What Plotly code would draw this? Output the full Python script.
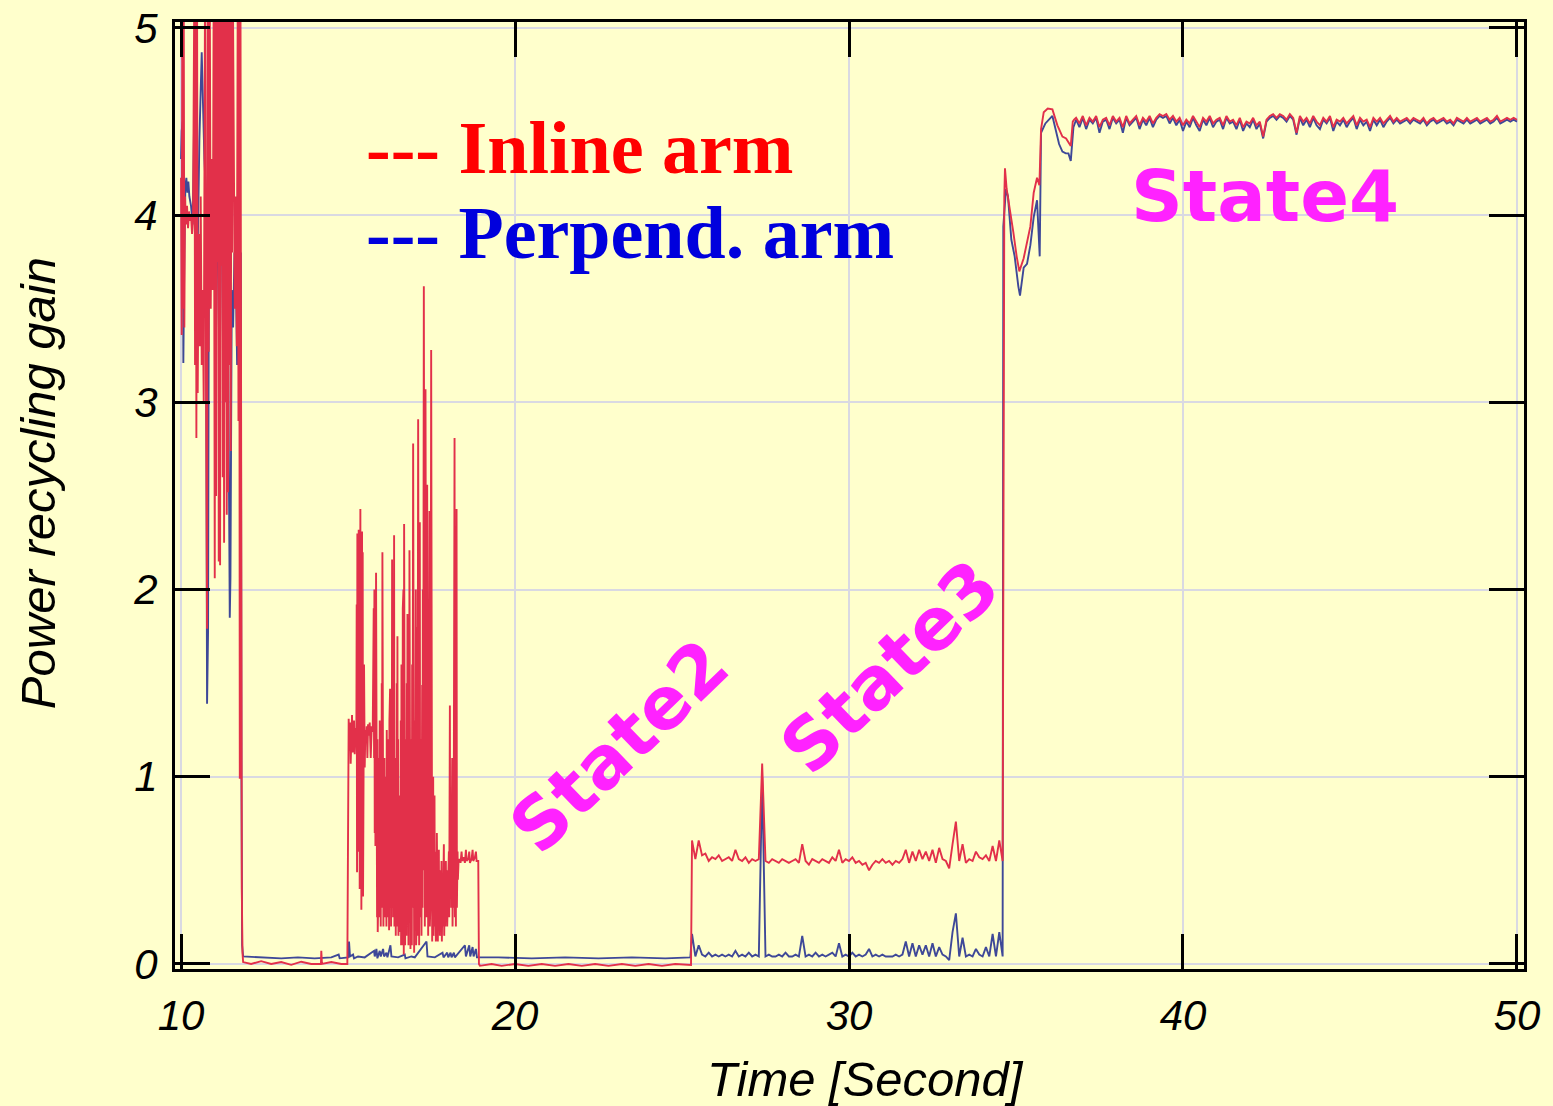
import numpy as np
import plotly.graph_objects as go

# ---------------- data ----------------
# Inline arm (red) -- (time [s], power recycling gain)
inline_startup = [(10.00,4.20),(10.02,3.36),(10.04,5.30),(10.06,3.50),(10.08,5.30),(10.10,3.40),(10.12,4.10),
    (10.15,3.95),(10.18,4.05),(10.21,3.93),(10.24,4.02),(10.27,3.97),(10.30,4.00),(10.33,3.90),(10.36,3.98),
    (10.40,5.30),(10.42,3.20),(10.44,5.30),(10.46,2.81),(10.48,5.30),(10.50,3.05),(10.53,3.90),(10.56,3.30),
    (10.59,4.10),(10.62,3.20),(10.65,3.60),(10.68,3.00),(10.72,5.30),(10.75,3.10),(10.78,1.79),(10.80,5.30),
    (10.83,3.27),(10.86,5.30),(10.89,3.50),(10.92,4.30),(10.95,3.60),(10.98,5.30),(11.01,2.06),(11.03,5.30),
    (11.05,2.50),(11.07,5.30),(11.09,3.75),(11.11,5.30),(11.13,2.15),(11.15,5.30),(11.17,2.13),(11.19,5.30),
    (11.21,3.73),(11.23,5.30),(11.25,2.60),(11.27,5.30),(11.29,2.25),(11.31,5.30),(11.33,3.00),(11.35,5.30),
    (11.37,2.40),(11.39,5.30),(11.41,2.52),(11.43,5.30),(11.45,3.20),(11.47,5.30),(11.49,2.74),(11.51,5.30),
    (11.53,3.80),(11.55,5.30),(11.58,3.90),(11.61,3.50),(11.64,4.10),(11.67,3.30),(11.70,5.30),(11.72,2.90),
    (11.74,5.30),(11.76,0.99),(11.78,5.30),(11.80,1.00),(11.82,0.40),(11.84,0.06)]
inline_quiet1 = [(11.86,0.01),(12.10,0.00),(12.40,0.015),(12.70,0.00),(13.00,0.01),(13.30,-0.005),(13.60,0.012),
    (13.90,0.00),(14.19,0.00),(14.20,0.07),(14.22,0.00),(14.50,0.01),(14.80,0.00),(14.98,0.00)]
inline_state2 = [(15.00,1.27),(15.02,1.31),(15.04,1.14),(15.06,1.29),(15.08,1.07),(15.10,1.26),(15.12,1.33),
    (15.14,1.13),(15.16,1.24),(15.18,1.30),(15.20,1.12),(15.23,1.26),(15.25,1.20),
    (15.26,1.92),(15.27,0.49),(15.28,2.30),(15.29,0.80),(15.30,2.05),(15.31,0.60),(15.32,2.32),(15.33,0.95),
    (15.34,2.10),(15.35,0.40),(15.36,1.90),(15.37,2.43),(15.38,0.70),(15.39,2.25),(15.40,0.29),(15.41,1.80),
    (15.42,2.31),(15.43,0.90),(15.44,2.20),(15.45,0.36),(15.46,1.50),(15.47,0.55),(15.48,1.60),(15.50,1.05),
    (15.52,1.25),(15.54,1.18),(15.56,1.27),(15.58,1.10),(15.60,1.28),(15.62,1.22),(15.65,1.29),(15.68,1.10),
    (15.71,1.27),(15.74,1.24),
    (15.77,1.90),(15.78,1.10),(15.79,2.00),(15.80,0.70),(15.81,1.95),(15.82,0.63),(15.84,2.09),(15.85,0.50),
    (15.86,1.40),(15.87,0.25),(15.88,1.20),(15.89,0.17),(15.90,0.90),(15.91,0.40),(15.92,1.10),(15.93,0.25),
    (15.95,1.30),(15.96,0.40),(15.97,0.90),(15.98,0.20),(15.99,1.20),(16.00,0.35),(16.01,1.50),(16.02,0.30),
    (16.03,2.20),(16.04,0.45),(16.05,1.00),(16.06,0.20),(16.07,0.80),(16.08,0.30),(16.09,1.10),(16.10,0.25),
    (16.12,0.70),(16.13,0.30),(16.14,1.00),(16.15,0.20),(16.16,1.25),(16.17,0.35),(16.18,0.60),(16.19,0.25),
    (16.20,1.20),(16.21,0.30),(16.22,0.90),(16.23,0.18),(16.24,1.30),(16.25,0.40),(16.26,1.47),(16.27,0.30),
    (16.28,1.40),(16.29,0.20),(16.30,1.00),(16.31,0.50),(16.32,2.16),(16.33,0.30),(16.34,1.50),(16.35,0.25),
    (16.36,1.90),(16.37,0.40),(16.38,2.29),(16.39,0.20),(16.40,1.20),(16.41,0.30),(16.42,0.80),(16.43,0.15),
    (16.44,1.10),(16.45,0.35),(16.46,1.50),(16.47,0.20),(16.48,1.75),(16.49,0.30),(16.50,1.20),(16.51,0.15),
    (16.52,0.90),(16.53,0.40),(16.54,0.60),(16.55,0.17),(16.56,0.90),(16.57,0.30),(16.58,1.30),(16.59,0.10),
    (16.60,1.60),(16.61,0.40),(16.62,0.80),(16.63,0.10),(16.64,1.90),(16.65,0.30),(16.66,2.00),(16.67,0.05),
    (16.68,2.35),(16.69,0.30),(16.70,1.40),(16.71,0.10),(16.72,0.90),(16.73,0.35),(16.74,1.20),(16.75,0.15),
    (16.76,1.50),(16.77,0.30),(16.78,1.87),(16.79,0.20),(16.80,1.00),(16.81,0.10),(16.82,1.70),(16.83,0.40),
    (16.84,2.21),(16.85,0.20),(16.86,1.50),(16.87,0.08),(16.88,1.20),(16.89,0.35),(16.90,0.90),(16.91,0.10),
    (16.92,1.60),(16.93,0.30),(16.95,2.78),(16.96,0.20),(16.97,1.50),(16.98,0.06),(16.99,0.80),(17.00,0.40),
    (17.01,1.30),(17.02,0.20),(17.03,2.00),(17.04,0.10),(17.05,1.00),(17.06,0.30),(17.07,1.80),(17.08,0.15),
    (17.10,2.91),(17.11,0.30),(17.12,1.90),(17.13,0.10),(17.14,0.90),(17.15,2.36),(17.16,0.25),(17.17,1.20),
    (17.18,0.40),(17.19,0.80),(17.20,0.15),(17.22,1.49),(17.23,0.30),(17.24,2.00),(17.25,0.50),(17.27,3.62),
    (17.28,0.40),(17.29,2.40),(17.30,0.20),(17.32,3.07),(17.33,0.60),(17.34,1.80),(17.35,0.25),(17.37,2.56),
    (17.38,0.35),(17.39,1.40),(17.40,0.15),(17.41,1.00),(17.42,0.40),(17.44,2.42),(17.45,0.20),(17.46,1.50),
    (17.47,0.35),(17.49,3.28),(17.50,0.30),(17.51,1.20),(17.52,0.12),(17.53,0.80),(17.54,0.40),(17.55,1.00),
    (17.56,0.15),(17.57,0.70),(17.58,0.35),(17.59,0.90),(17.60,0.20),(17.62,0.60),(17.63,0.12),(17.64,0.50),
    (17.65,0.20),(17.66,0.70),(17.67,0.30),(17.68,0.55),(17.69,0.12),(17.70,0.45),(17.72,0.61),(17.73,0.20),
    (17.74,0.50),(17.75,0.15),(17.77,0.45),(17.78,0.25),(17.80,0.55),(17.81,0.12),(17.83,0.40),(17.84,0.20),
    (17.86,0.50),(17.87,0.64),(17.88,0.15),(17.90,0.45),(17.91,0.20),(17.93,0.55),(17.94,0.30),(17.96,0.50),
    (17.97,0.20),(17.99,0.45),(18.00,0.30),(18.02,0.60),(18.03,0.25),(18.05,1.38),(18.06,0.40),(18.08,0.90),
    (18.09,0.30),(18.11,0.70),(18.12,1.10),(18.13,0.20),(18.15,0.60),(18.16,0.30),(18.17,1.20),(18.19,2.81),
    (18.20,0.25),(18.22,0.90),(18.23,0.20),(18.25,2.43),(18.26,0.30),(18.28,0.60),(18.29,0.45),(18.31,0.55),
    (18.34,0.56),(18.37,0.54),(18.40,0.60),(18.42,0.55),(18.46,0.57),(18.50,0.54),(18.53,0.61),(18.55,0.55),
    (18.60,0.56),(18.63,0.60),(18.65,0.54),(18.70,0.56),(18.73,0.61),(18.75,0.55),(18.80,0.57),(18.83,0.60),
    (18.85,0.55),(18.90,0.55),(18.92,0.00)]
inline_quiet2 = [(18.95,-0.01),(19.30,0.00),(19.60,-0.01),(20.00,0.00),(20.40,-0.01),(20.80,0.00),(21.20,-0.01),
    (21.60,0.00),(22.00,-0.01),(22.40,0.00),(22.80,-0.01),(23.20,0.00),(23.60,-0.01),(24.00,0.00),(24.40,-0.01),
    (24.80,0.00),(25.27,-0.005)]
# State3: samples every 0.1 s from 25.3 s to 34.6 s
state3_start, state3_step = 25.3, 0.1
inline_state3 = [0.66,0.56,0.66,0.58,0.59,0.55,0.57,0.56,0.58,0.55,
    0.56,0.57,0.55,0.61,0.56,0.55,0.57,0.54,0.56,0.55,
    0.56,1.07,0.55,0.54,0.56,0.55,0.54,0.56,0.55,0.54,
    0.55,0.56,0.54,0.64,0.55,0.53,0.56,0.55,0.54,0.56,
    0.55,0.54,0.57,0.55,0.61,0.54,0.56,0.55,0.57,0.54,
    0.55,0.53,0.54,0.50,0.53,0.55,0.54,0.56,0.54,0.55,
    0.53,0.55,0.54,0.56,0.61,0.54,0.60,0.55,0.61,0.56,
    0.60,0.55,0.61,0.54,0.62,0.56,0.55,0.51,0.64,0.76,
    0.55,0.64,0.54,0.56,0.55,0.60,0.57,0.56,0.58,0.55,
    0.63,0.55,0.66,0.55]
inline_lock = [(34.65,4.10),(34.67,4.25),(34.72,4.14),(34.82,4.03),(34.92,3.91),(35.02,3.78),(35.10,3.70),
    (35.23,3.77),(35.33,3.85),(35.43,3.94),(35.53,4.12),(35.63,4.20),(35.70,4.16),(35.75,4.46),(35.83,4.55),
    (35.95,4.57),(36.09,4.565),(36.15,4.53),(36.24,4.48),(36.39,4.42),(36.50,4.41),(36.64,4.37),(36.70,4.50),
    (36.74,4.51)]
# State4: samples every 0.1 s from 36.8 s to 50.0 s
state4_start, state4_step = 36.8, 0.1
inline_state4 = [4.52,4.49,4.53,4.48,4.52,4.50,4.53,4.47,4.51,4.52,
    4.48,4.53,4.50,4.52,4.47,4.53,4.49,4.51,4.53,4.48,
    4.52,4.50,4.53,4.49,4.52,4.54,4.53,4.54,4.51,4.53,
    4.50,4.52,4.48,4.51,4.49,4.53,4.50,4.47,4.52,4.50,
    4.53,4.49,4.51,4.52,4.48,4.53,4.50,4.51,4.48,4.52,
    4.47,4.50,4.49,4.52,4.48,4.50,4.42,4.51,4.53,4.54,
    4.52,4.54,4.53,4.51,4.54,4.52,4.44,4.53,4.50,4.52,
    4.49,4.53,4.50,4.48,4.52,4.50,4.53,4.47,4.51,4.50,
    4.52,4.49,4.51,4.53,4.48,4.52,4.50,4.51,4.47,4.52,
    4.50,4.52,4.49,4.51,4.53,4.50,4.52,4.50,4.51,4.52,
    4.50,4.52,4.51,4.50,4.52,4.49,4.51,4.52,4.50,4.51,
    4.52,4.50,4.51,4.49,4.52,4.51,4.50,4.52,4.50,4.51,
    4.52,4.50,4.51,4.52,4.50,4.51,4.53,4.50,4.51,4.52,
    4.51,4.52,4.51]

# Perpendicular arm (blue)
perp_startup = [(10.00,4.30),(10.02,4.45),(10.05,4.50),(10.07,3.21),(10.10,3.80),(10.13,4.15),(10.16,4.20),
    (10.19,4.12),(10.22,4.18),(10.25,4.10),(10.30,4.05),(10.35,3.95),(10.40,4.60),(10.44,4.30),(10.48,3.60),
    (10.55,4.40),(10.62,4.87),(10.66,4.55),(10.70,4.30),(10.74,4.14),(10.78,1.39),(10.81,1.78),(10.84,4.37),
    (10.88,3.90),(10.92,4.25),(10.96,3.70),(11.00,4.20),(11.05,3.40),(11.10,4.37),(11.15,3.00),(11.20,3.90),
    (11.25,4.10),(11.30,3.50),(11.35,3.30),(11.40,3.70),(11.46,1.85),(11.48,2.06),(11.52,3.60),(11.56,3.40),
    (11.60,3.80),(11.64,3.70),(11.68,3.20),(11.72,3.84),(11.76,3.50),(11.79,3.80),(11.81,1.00),(11.83,0.10),
    (11.86,0.04)]
perp_state2 = [(12.50,0.035),(13.00,0.03),(13.50,0.035),(14.00,0.03),(14.50,0.035),(14.72,0.05),(14.75,0.03),
    (15.00,0.035),(15.03,0.12),(15.06,0.04),(15.15,0.05),(15.18,0.03),(15.30,0.04),(15.50,0.035),(15.78,0.07),
    (15.80,0.04),(15.85,0.08),(15.88,0.03),(15.95,0.07),(15.98,0.04),(16.05,0.08),(16.08,0.04),(16.15,0.06),
    (16.18,0.035),(16.27,0.10),(16.30,0.04),(16.50,0.035),(16.70,0.05),(16.72,0.03),(16.90,0.04),(17.00,0.035),
    (17.35,0.12),(17.38,0.04),(17.60,0.035),(17.83,0.06),(17.86,0.035),(17.97,0.06),(18.00,0.035),(18.07,0.06),
    (18.10,0.035),(18.17,0.06),(18.20,0.035),(18.50,0.10),(18.53,0.04),(18.63,0.10),(18.66,0.04),(18.73,0.09),
    (18.76,0.04),(18.83,0.08),(18.86,0.035),(19.50,0.035),(20.50,0.03),(21.50,0.035),(22.50,0.03),(23.50,0.035),
    (24.50,0.03),(25.25,0.035)]
perp_state3 = [0.16,0.04,0.10,0.05,0.04,0.06,0.04,0.05,0.04,0.05,
    0.04,0.05,0.04,0.07,0.04,0.05,0.04,0.06,0.04,0.05,
    0.04,1.00,0.04,0.05,0.04,0.04,0.05,0.04,0.06,0.04,
    0.04,0.05,0.04,0.15,0.04,0.05,0.04,0.06,0.04,0.05,
    0.04,0.05,0.06,0.04,0.11,0.04,0.05,0.04,0.06,0.04,
    0.05,0.04,0.05,0.08,0.04,0.05,0.04,0.05,0.04,0.04,
    0.04,0.05,0.04,0.05,0.12,0.04,0.11,0.04,0.10,0.05,
    0.10,0.04,0.11,0.04,0.09,0.05,0.04,0.02,0.17,0.27,
    0.04,0.14,0.04,0.05,0.04,0.08,0.05,0.04,0.09,0.04,
    0.16,0.04,0.17,0.04]
perp_lock = [(34.62,3.94),(34.70,4.14),(34.76,4.10),(34.86,3.87),(34.96,3.78),(35.07,3.62),(35.12,3.57),
    (35.23,3.72),(35.33,3.74),(35.43,3.84),(35.53,3.99),(35.63,4.08),(35.68,3.90),(35.71,3.78),(35.75,4.44),
    (35.88,4.49),(36.09,4.53),(36.19,4.45),(36.29,4.38),(36.39,4.34),(36.49,4.33),(36.57,4.33),(36.64,4.29),
    (36.72,4.47)]
perp_state4 = [4.51,4.47,4.52,4.46,4.51,4.49,4.52,4.44,4.50,4.51,
    4.46,4.52,4.49,4.51,4.44,4.52,4.48,4.50,4.52,4.46,
    4.51,4.48,4.52,4.47,4.51,4.53,4.52,4.53,4.49,4.52,
    4.48,4.51,4.45,4.50,4.47,4.52,4.48,4.45,4.51,4.48,
    4.52,4.47,4.50,4.51,4.46,4.52,4.49,4.50,4.46,4.51,
    4.45,4.49,4.47,4.51,4.46,4.49,4.41,4.50,4.52,4.53,
    4.51,4.53,4.52,4.50,4.53,4.51,4.43,4.52,4.48,4.51,
    4.47,4.52,4.48,4.46,4.51,4.49,4.52,4.45,4.50,4.48,
    4.51,4.47,4.50,4.52,4.46,4.51,4.48,4.50,4.45,4.51,
    4.48,4.51,4.47,4.50,4.52,4.49,4.51,4.49,4.50,4.51,
    4.49,4.51,4.50,4.49,4.51,4.48,4.50,4.51,4.49,4.50,
    4.51,4.49,4.50,4.48,4.51,4.50,4.49,4.51,4.49,4.50,
    4.51,4.49,4.50,4.51,4.49,4.50,4.52,4.49,4.50,4.51,
    4.50,4.51,4.50]

x_ticks = [10, 20, 30, 40, 50]
y_ticks = [0, 1, 2, 3, 4, 5]
legend_labels = ["--- Inline arm", "--- Perpend. arm"]
state_labels = ["State2", "State3", "State4"]


def grid_times(start, step, n):
    return [round(start + step * i, 3) for i in range(n)]


def assemble(pair_lists_and_grids):
    t, v = [], []
    for item in pair_lists_and_grids:
        if isinstance(item, tuple):
            start, step, vals = item
            t += grid_times(start, step, len(vals))
            v += list(vals)
        else:
            t += [p[0] for p in item]
            v += [p[1] for p in item]
    return t, v


t_in, v_in = assemble([inline_startup, inline_quiet1, inline_state2, inline_quiet2,
                       (state3_start, state3_step, inline_state3), inline_lock,
                       (state4_start, state4_step, inline_state4)])
t_pp, v_pp = assemble([perp_startup, perp_state2,
                       (state3_start, state3_step, perp_state3), perp_lock,
                       (state4_start, state4_step, perp_state4)])

BG = "#FFFFCC"
RED_LINE = "#E2304A"
BLUE_LINE = "#3E4898"

fig = go.Figure()
fig.add_trace(go.Scatter(x=t_pp, y=v_pp, mode="lines", line=dict(color=BLUE_LINE, width=1.9),
                         name="Perpend. arm"))
fig.add_trace(go.Scatter(x=t_in, y=v_in, mode="lines", line=dict(color=RED_LINE, width=1.9),
                         name="Inline arm"))

axis_common = dict(showline=True, linecolor="black", linewidth=3, mirror="allticks",
                   ticks="inside", ticklen=35, tickwidth=3, tickcolor="black",
                   showgrid=True, gridcolor="#D9D9E2", gridwidth=1.5, zeroline=False,
                   automargin=False,
                   tickfont=dict(family="Liberation Sans, Arial, sans-serif", size=42,
                                 color="black", style="italic"))

fig.update_xaxes(range=[9.82, 50.21], tickvals=x_ticks, ticktext=[str(v) for v in x_ticks],
                 ticklabelstandoff=8, **axis_common)
fig.update_yaxes(range=[-0.027, 5.032], tickvals=y_ticks, ticktext=[str(v) for v in y_ticks],
                 ticklabelstandoff=6, **axis_common)

annotations = [
    dict(text="Time [Second]", xref="paper", yref="paper", x=0.5115, y=0, yshift=-110,
         xanchor="center", yanchor="middle", showarrow=False,
         font=dict(family="Liberation Sans, Arial, sans-serif", size=49, color="black", style="italic")),
    dict(text="Power recycling gain", xref="paper", yref="paper", x=-0.1016, y=0.513,
         xanchor="center", yanchor="middle", textangle=-90, showarrow=False,
         font=dict(family="Liberation Sans, Arial, sans-serif", size=49, color="black", style="italic")),
    dict(text="<b>" + legend_labels[0] + "</b>", x=15.48, y=4.36, xref="x", yref="y",
         xanchor="left", yanchor="middle", showarrow=False,
         font=dict(family="Liberation Serif, Times New Roman, serif", size=74, color="#FF0000")),
    dict(text="<b>" + legend_labels[1] + "</b>", x=15.48, y=3.906, xref="x", yref="y",
         xanchor="left", yanchor="middle", showarrow=False,
         font=dict(family="Liberation Serif, Times New Roman, serif", size=74, color="#0000DD")),
    dict(text="<b>" + state_labels[0] + "</b>", x=23.12, y=1.165, xref="x", yref="y", textangle=-44,
         xanchor="center", yanchor="middle", showarrow=False,
         font=dict(family="DejaVu Sans, Verdana, sans-serif", size=72, color="#FF22FF")),
    dict(text="<b>" + state_labels[1] + "</b>", x=31.22, y=1.585, xref="x", yref="y", textangle=-44,
         xanchor="center", yanchor="middle", showarrow=False,
         font=dict(family="DejaVu Sans, Verdana, sans-serif", size=72, color="#FF22FF")),
    dict(text="<b>" + state_labels[2] + "</b>", x=42.46, y=4.10, xref="x", yref="y",
         xanchor="center", yanchor="middle", showarrow=False,
         font=dict(family="DejaVu Sans, Verdana, sans-serif", size=72, color="#FF22FF")),
]

fig.update_layout(width=1553, height=1106, paper_bgcolor=BG, plot_bgcolor=BG,
                  margin=dict(l=175, r=29, t=22, b=137), showlegend=False,
                  annotations=annotations)

fig.write_html("out.html", config={"displayModeBar": False},
               post_script="document.body.style.margin='0';")
